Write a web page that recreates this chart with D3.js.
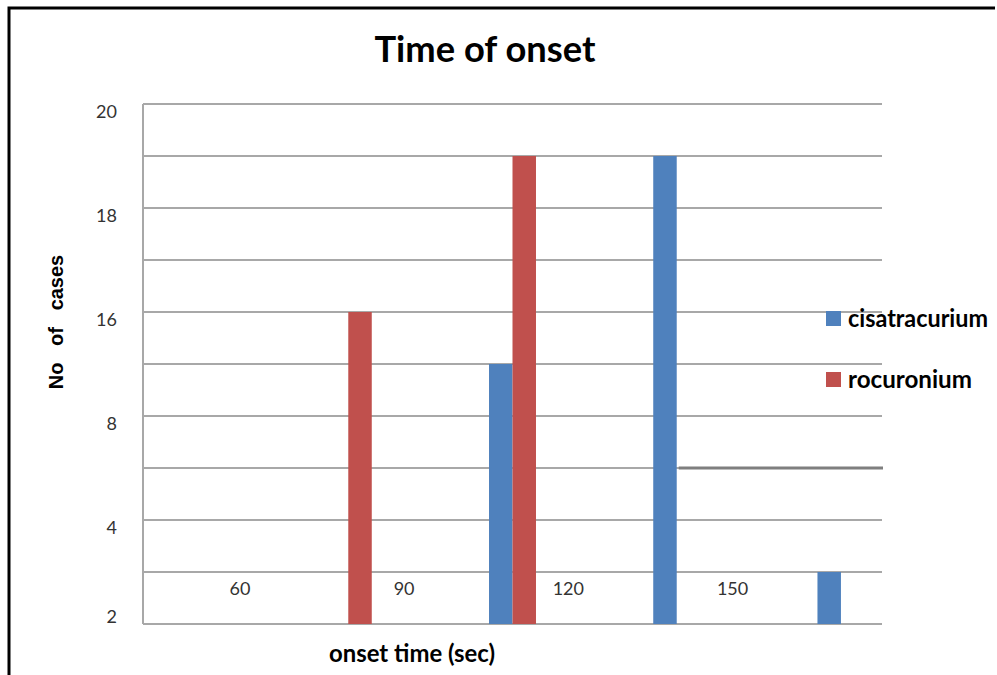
<!DOCTYPE html>
<html>
<head>
<meta charset="utf-8">
<script src="https://cdn.jsdelivr.net/npm/d3@7"></script>
<style>
  html, body { margin: 0; padding: 0; background: #fff; }
  svg { display: block; }
</style>
</head>
<body>
<svg id="chart" width="997" height="675"></svg>
<script>
// ---- data (in plotted axis units) ----
const categories = ["60", "90", "120", "150", ""];
const seriesNames = ["cisatracurium", "rocuronium"];
const cisatracurium = [0, 0, 10, 18, 2];
const rocuronium = [0, 12, 18, 0, 0];
const yTickValues = [0, 4, 8, 12, 16, 20];
const yTickLabels = ["2", "4", "8", "16", "18", "20"];
const colors = ["#4F81BD", "#C0504D"];
const titleText = "Time of onset";
const xTitle = "onset time (sec)";
const yTitle = "No   of   cases";

// ---- layout ----
const W = 997, H = 675;
const plot = { left: 143, right: 882, top: 104, bottom: 624 };
const svg = d3.select("#chart");

// frame
svg.append("path")
  .attr("d", `M9,${H} L9,8 L995,8`)
  .attr("fill", "none").attr("stroke", "#000").attr("stroke-width", 3);

const x = d3.scalePoint().domain(d3.range(categories.length))
  .range([plot.left, plot.right]).padding(0.25);
const step = x.step();
const bw = step * 0.143;
const y = d3.scaleLinear().domain([0, 20]).range([plot.bottom, plot.top]);

// gridlines every 2 units
const grid = svg.append("g");
grid.selectAll("line").data(d3.range(0, 21, 2)).join("line")
  .attr("x1", plot.left).attr("x2", plot.right)
  .attr("y1", d => y(d)).attr("y2", d => y(d))
  .attr("stroke", "#a8a8a8").attr("stroke-width", 2);
// left axis line
svg.append("line")
  .attr("x1", plot.left).attr("x2", plot.left)
  .attr("y1", y(20)).attr("y2", y(0))
  .attr("stroke", "#a8a8a8").attr("stroke-width", 2);

// y tick labels
svg.append("g").selectAll("text").data(yTickValues).join("text")
  .attr("x", 117)
  .attr("y", (d, i) => d === 0 ? y(d) - 1 : y(d) + 13.5)
  .attr("text-anchor", "end")
  .attr("font-family", "Lato, 'Open Sans', sans-serif")
  .attr("font-size", 18)
  .attr("fill", "#333")
  .text((d, i) => yTickLabels[i]);

// bars
const series = [cisatracurium, rocuronium];
series.forEach((vals, si) => {
  svg.append("g").selectAll("rect").data(vals.map((v, i) => ({ v, i })).filter(d => d.v > 0))
    .join("rect")
    .attr("x", d => x(d.i) + (si === 0 ? -bw : 0))
    .attr("width", bw)
    .attr("y", d => y(d.v))
    .attr("height", d => y(0) - y(d.v))
    .attr("fill", colors[si]);
});

// darker stray segment on the gridline at 6 units, right of the 150 bar
svg.append("line")
  .attr("x1", x(3) + 2).attr("x2", plot.right + 1)
  .attr("y1", y(6)).attr("y2", y(6))
  .attr("stroke", "#7f7f7f").attr("stroke-width", 3);

// category labels (drawn inside the plot, offset right of each group)
svg.append("g").selectAll("text").data(categories.map((c, i) => ({ c, i })).filter(d => d.c))
  .join("text")
  .attr("x", d => x(d.i) + step * 0.34)
  .attr("y", y(0) - 29)
  .attr("text-anchor", "middle")
  .attr("font-family", "Lato, 'Open Sans', sans-serif")
  .attr("font-size", 18)
  .attr("fill", "#333")
  .text(d => d.c);

// title
svg.append("text")
  .attr("x", 485).attr("y", 62)
  .attr("text-anchor", "middle")
  .attr("font-family", "Lato, 'Open Sans', sans-serif")
  .attr("font-weight", "bold")
  .attr("font-size", 37)
  .attr("textLength", 221).attr("lengthAdjust", "spacingAndGlyphs")
  .attr("fill", "#000")
  .text(titleText);

// x axis title
svg.append("text")
  .attr("x", 329).attr("y", 662)
  .attr("font-family", "Lato, 'Open Sans', sans-serif")
  .attr("font-weight", "bold")
  .attr("font-size", 24)
  .attr("textLength", 166).attr("lengthAdjust", "spacingAndGlyphs")
  .attr("fill", "#000")
  .text(xTitle);

// y axis title
svg.append("text")
  .attr("transform", "translate(63,322) rotate(-90)")
  .attr("text-anchor", "middle")
  .attr("font-family", "'Liberation Sans', Arial, sans-serif")
  .attr("font-weight", "bold")
  .attr("font-size", 20)
  .style("white-space", "pre")
  .attr("fill", "#000")
  .text(yTitle);

// legend
const legend = svg.append("g");
const legendY = [311, 372];
seriesNames.forEach((name, i) => {
  legend.append("rect")
    .attr("x", 826).attr("y", legendY[i]).attr("width", 15).attr("height", 15)
    .attr("fill", colors[i]);
  legend.append("text")
    .attr("x", 848).attr("y", legendY[i] + 16)
    .attr("font-family", "Lato, 'Open Sans', sans-serif")
    .attr("font-weight", "bold")
    .attr("font-size", 24)
    .attr("textLength", i === 0 ? 140 : 124).attr("lengthAdjust", "spacingAndGlyphs")
    .attr("fill", "#000")
    .text(name);
});
</script>
</body>
</html>
